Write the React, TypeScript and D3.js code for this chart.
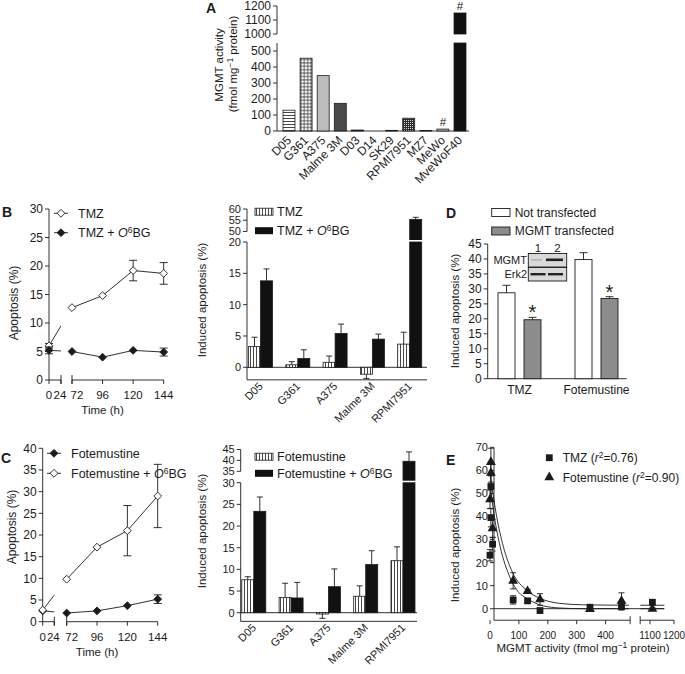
import React from "react";
import * as d3 from "d3";

const FONT = "'Liberation Sans', Arial, Helvetica, sans-serif";
const INK = "#1b1b1b";

// ---------------- Panel A : MGMT activity ----------------
const cellLinesA = ["D05", "G361", "A375", "Malme 3M", "D03", "D14", "SK29", "RPMI7951", "MZ7", "MeWo", "MveWoF40"];
const mgmtActivityA = [130, 455, 346, 173, 6, 0, 4, 80, 3, 12, 1150];
const lowerTicksA = [0, 100, 200, 300, 400, 500];
const upperTicksA = [1000, 1100, 1200];
const flaggedA = ["MeWo", "MveWoF40"];
const fillA: Record<string, string> = {
  D05: "url(#hHatch)", G361: "url(#grid)", A375: "#bcbcbc", "Malme 3M": "#4a4a4a",
  D03: "#333", D14: "#333", SK29: "#333", RPMI7951: "url(#dots)", MZ7: "#333",
  MeWo: "url(#lightV)", MveWoF40: "#111",
};

// ---------------- Panel B : TMZ time course ----------------
const timeTicks = [0, 24, 72, 96, 120, 144];
const timePoints = [0, 72, 96, 120, 144];
const tmzApoptosis = [6.0, 12.7, 14.8, 19.2, 18.7];
const tmzApoptosisErr = [0.4, 0.3, 0.3, 1.8, 1.9];
const tmzO6Apoptosis = [5.2, 5.0, 4.0, 5.2, 4.9];
const tmzO6ApoptosisErr = [0.6, 0.3, 0.3, 0.3, 0.7];
const bLeftTicks = [0, 5, 10, 15, 20, 25, 30];

// ---------------- Panel B : TMZ induced apoptosis ----------------
const cellLinesBC = ["D05", "G361", "A375", "Malme 3M", "RPMI7951"];
const tmzInduced = [3.3, 0.4, 0.8, -1.1, 3.7];
const tmzInducedErr = [1.5, 0.5, 1.0, 0.7, 1.9];
const tmzO6Induced = [13.8, 1.4, 5.4, 4.5, 55.4];
const tmzO6InducedErr = [1.9, 1.4, 1.5, 0.8, 0.9];
const bRightLowerTicks = [0, 5, 10, 15, 20];
const bRightUpperTicks = [50, 55, 60];

// ---------------- Panel C : Fotemustine time course ----------------
const foteApoptosis = [2.5, 2.0, 2.5, 3.7, 5.2];
const foteApoptosisErr = [0.3, 0.2, 0.3, 0.3, 1.0];
const foteO6Apoptosis = [2.7, 9.8, 17.2, 21.0, 29.0];
const foteO6ApoptosisErr = [0.3, 0.3, 0.3, 5.8, 7.3];
const cLeftTicks = [0, 5, 10, 15, 20, 25, 30, 35, 40];

// ---------------- Panel C : Fotemustine induced apoptosis ----------------
const foteInduced = [7.6, 3.5, -0.3, 3.8, 12.0];
const foteInducedErr = [0.7, 3.3, 1.0, 2.4, 3.2];
const foteO6Induced = [23.4, 3.4, 6.0, 11.1, 39.6];
const foteO6InducedErr = [3.3, 3.6, 4.1, 3.2, 4.3];
const cRightLowerTicks = [0, 5, 10, 15, 20, 25, 30];
const cRightUpperTicks = [35, 40, 45];

// ---------------- Panel D ----------------
const drugsD = ["TMZ", "Fotemustine"];
const notTransfected = [28.7, 39.8];
const notTransfectedErr = [2.5, 2.3];
const mgmtTransfected = [19.7, 26.8];
const mgmtTransfectedErr = [0.8, 0.6];
const dTicks = [0, 5, 10, 15, 20, 25, 30, 35, 40, 45];
const blotLanes = ["1", "2"];
const blotRows = ["MGMT", "Erk2"];

// ---------------- Panel E ----------------
const eTmzMgmt = [0, 3, 3, 9, 80, 130, 173, 346, 455, 1110];
const eTmzInduced = [23.2, 39.5, 53, 28, 3.8, 3.4, -0.8, 0.4, 0.9, 2.8];
const eTmzErr = [2.5, 4, 5, 3, 1.8, 1, 1, 1.5, 1.5, 1];
const eFoteMgmt = [3, 3, 0, 9, 80, 130, 173, 346, 455, 1110];
const eFoteInduced = [63.6, 58.9, 47.4, 34.8, 12.1, 7.6, 4.0, -0.2, 3.4, -0.1];
const eFoteErr = [6, 4, 4, 4, 3.5, 0.8, 2.5, 0.5, 3.5, 0.5];
const eTmzFitX = [0, 15, 35, 69, 100, 127, 184, 242, 320, 480];
const eTmzFitY = [54, 40, 27, 13.6, 7, 4.5, 1.2, 0.3, 0, 0];
const eFoteFitX = [0, 23, 46, 77, 127, 173, 242, 320, 480];
const eFoteFitY = [58.5, 40, 27, 16, 8, 4.5, 2.3, 1.7, 1.5];
const eFitRightX = [1060, 1160];
const eTmzFitRightY = [0, 0];
const eFoteFitRightY = [1.5, 1.5];
const eXTicksLeft = [0, 100, 200, 300, 400];
const eXTicksRight = [1100, 1200];
const eYTicks = [0, 10, 20, 30, 40, 50, 60, 70];

const diamond = "M0,-3.9L3.9,0L0,3.9L-3.9,0Z";

type Scale = (v: number) => number;

function LeftAxis({ x, scale, ticks, top, bottom, fs = 12 }: { x: number; scale: Scale; ticks: number[]; top: number; bottom: number; fs?: number }) {
  return (
    <g>
      <line x1={x} x2={x} y1={top} y2={bottom} stroke={INK} strokeWidth={0.9} />
      {ticks.map((t) => (
        <g key={t}>
          <line x1={x - 4} x2={x} y1={scale(t)} y2={scale(t)} stroke={INK} strokeWidth={0.9} />
          <text x={x - 6} y={scale(t)} dy="0.36em" textAnchor="end" fontSize={fs}>{t}</text>
        </g>
      ))}
    </g>
  );
}

function ErrorBar({ x, from, to, half = 3 }: { x: number; from: number; to: number; half?: number }) {
  return (
    <g stroke={INK} strokeWidth={0.9}>
      <line x1={x} x2={x} y1={from} y2={to} />
      <line x1={x - half} x2={x + half} y1={to} y2={to} />
    </g>
  );
}

function O6({ prefix }: { prefix: string }) {
  return (
    <>
      {prefix + " + "}
      <tspan fontStyle="italic">O</tspan>
      <tspan dy={-4} fontSize={8.5}>6</tspan>
      <tspan dy={4}>BG</tspan>
    </>
  );
}

type TS = { values: number[]; errors: number[]; filled: boolean; label: string; o6: boolean };

function TimeCourse({ id, axisX, xLeft, xRight, y, yTicks, series, legendX, legendY, legendStep }: {
  id: string; axisX: number; xLeft: d3.ScaleLinear<number, number>; xRight: d3.ScaleLinear<number, number>;
  y: d3.ScaleLinear<number, number>; yTicks: number[]; series: TS[]; legendX: number; legendY: number; legendStep: number;
}) {
  const xOf = (t: number) => (t <= 24 ? xLeft(t) : xRight(t));
  const labelShift = (t: number) => (t === 72 ? 5 : t === 24 ? -1 : 0);
  const y0 = y(0);
  const seg = d3.line<number>().x((_, i) => xOf(timePoints[i + 1])).y((d) => y(d));
  return (
    <g>
      <defs>
        <clipPath id={id}>
          <rect x={0} y={0} width={xLeft(24)} height={700} />
        </clipPath>
      </defs>
      <LeftAxis x={axisX} scale={y} ticks={yTicks} top={y(yTicks[yTicks.length - 1])} bottom={y0} />
      <g stroke={INK} strokeWidth={0.9}>
        <line x1={xLeft(0)} x2={xLeft(24)} y1={y0} y2={y0} />
        <line x1={xRight(72)} x2={xRight(144)} y1={y0} y2={y0} />
        <line x1={xLeft(24)} x2={xLeft(24)} y1={y0 - 5} y2={y0 + 4} />
        <line x1={xRight(72)} x2={xRight(72)} y1={y0 - 5} y2={y0 + 4} />
        {timeTicks.map((t) => (
          <line key={t} x1={xOf(t)} x2={xOf(t)} y1={y0} y2={y0 + 4} />
        ))}
      </g>
      {timeTicks.map((t) => (
        <text key={t} x={xOf(t) + labelShift(t)} y={y0 + 19} textAnchor="middle" fontSize={11.5}>{t}</text>
      ))}
      <text x={xRight(96)} y={y0 + 34} textAnchor="middle" fontSize={11.5}>Time (h)</text>
      {series.map((s, k) => (
        <g key={k}>
          <path d={seg(s.values.slice(1)) || ""} fill="none" stroke={INK} strokeWidth={0.9} />
          <line x1={xOf(0)} y1={y(s.values[0])} x2={xOf(72)} y2={y(s.values[1])} stroke={INK} strokeWidth={0.9} clipPath={`url(#${id})`} />
          {s.values.map((v, i) => (
            s.errors[i] > 0.35 ? (
              <g key={i}>
                <ErrorBar x={xOf(timePoints[i])} from={y(v)} to={y(v + s.errors[i])} half={4} />
                <ErrorBar x={xOf(timePoints[i])} from={y(v)} to={y(v - s.errors[i])} half={4} />
              </g>
            ) : null
          ))}
          {s.values.map((v, i) => (
            <path key={i} d={diamond} transform={`translate(${xOf(timePoints[i])},${y(v)})`} fill={s.filled ? INK : "#fff"} stroke={INK} strokeWidth={0.9} />
          ))}
        </g>
      ))}
      {series.map((s, k) => (
        <g key={k} transform={`translate(${legendX},${legendY + k * legendStep})`}>
          <line x1={0} x2={14} stroke={INK} strokeWidth={0.9} />
          <path d={diamond} transform="translate(7,0)" fill={s.filled ? INK : "#fff"} stroke={INK} strokeWidth={0.9} />
          <text x={24} y={0} dy="0.36em" fontSize={12.5}>
            {s.o6 ? <O6 prefix={s.label} /> : s.label}
          </text>
        </g>
      ))}
    </g>
  );
}

function InducedBars({ axisX, axisEnd, centers, yL, yU, lowTicks, upTicks, lowMin, lowMax, a, aErr, b, bErr, legend }: {
  axisX: number; axisEnd: number; centers: d3.ScalePoint<string>; yL: d3.ScaleLinear<number, number>; yU: d3.ScaleLinear<number, number>;
  lowTicks: number[]; upTicks: number[]; lowMin: number; lowMax: number;
  a: number[]; aErr: number[]; b: number[]; bErr: number[]; legend: { x: number; y: number; step: number; drug: string };
}) {
  const bw = 12;
  const bar = (v: number, x: number, fill: string, key: string) => {
    if (v <= lowMax) {
      const top = yL(Math.max(v, 0));
      const bot = yL(Math.min(v, 0));
      return <rect key={key} x={x} y={top} width={bw} height={Math.max(bot - top, 0.5)} fill={fill} stroke={INK} strokeWidth={0.8} />;
    }
    return (
      <g key={key}>
        <rect x={x} y={yU(v)} width={bw} height={yL(0) - yU(v)} fill={fill} stroke={INK} strokeWidth={0.8} />
        <rect x={x - 1} y={yL(lowMax) - 2} width={bw + 2} height={1.6} fill="#fff" />
      </g>
    );
  };
  const err = (v: number, e: number, x: number, key: string) => {
    const sc = v > lowMax ? yU : yL;
    const to = v >= 0 ? sc(v + e) : sc(v - e);
    return <ErrorBar key={key} x={x} from={sc(v)} to={to} half={3} />;
  };
  return (
    <g>
      <LeftAxis x={axisX} scale={yL} ticks={lowTicks} top={yL(lowMax)} bottom={yL(lowMin)} fs={11} />
      <LeftAxis x={axisX} scale={yU} ticks={upTicks} top={yU(upTicks[upTicks.length - 1])} bottom={yU(upTicks[0])} fs={11} />
      <line x1={axisX} x2={axisEnd} y1={yL(0)} y2={yL(0)} stroke={INK} strokeWidth={0.9} />
      <line x1={axisX} x2={axisEnd} y1={yL(lowMin)} y2={yL(lowMin)} stroke={INK} strokeWidth={0.9} />
      {cellLinesBC.map((c, i) => {
        const cx = centers(c)!;
        return (
          <g key={c}>
            {err(a[i], aErr[i], cx - bw / 2, "ea")}
            {err(b[i], bErr[i], cx + bw / 2, "eb")}
            {bar(a[i], cx - bw, "url(#vHatch)", "a")}
            {bar(b[i], cx, "#111", "b")}
            <text transform={`translate(${cx + 3},${yL(lowMin) + 7}) rotate(-45)`} textAnchor="end" fontSize={11}>{c}</text>
          </g>
        );
      })}
      <g transform={`translate(${legend.x},${legend.y})`}>
        <rect x={0} y={-3.5} width={18} height={7} fill="url(#vHatch)" stroke={INK} strokeWidth={0.8} />
        <text x={22} dy="0.36em" fontSize={12.5}>{legend.drug}</text>
        <rect x={0} y={legend.step - 3.5} width={18} height={7} fill="#111" />
        <text x={22} y={legend.step} dy="0.36em" fontSize={12.5}><O6 prefix={legend.drug} /></text>
      </g>
    </g>
  );
}

export default function App() {
  // ---------- A ----------
  const xA = d3.scaleBand<string>().domain(cellLinesA).range([281.3, 467.7]).paddingInner(0.3).paddingOuter(0.1);
  const yAL = d3.scaleLinear().domain([0, 500]).range([131, 51]);
  const yAU = d3.scaleLinear().domain([1000, 1200]).range([34, 6]);
  const aAxisX = 277;
  const aLowMax = 550;

  // ---------- B ----------
  const bxL = d3.scaleLinear().domain([0, 24]).range([49, 61]);
  const bxR = d3.scaleLinear().domain([72, 144]).range([72, 163.7]);
  const byL = d3.scaleLinear().domain([0, 30]).range([380, 209]);
  const bCenters = d3.scalePoint<string>().domain(cellLinesBC).range([260.5, 409.7]);
  const byRL = d3.scaleLinear().domain([0, 20]).range([367.3, 242]);
  const byRU = d3.scaleLinear().domain([50, 60]).range([231.5, 209]);

  // ---------- C ----------
  const cxL = d3.scaleLinear().domain([0, 24]).range([42.7, 54.3]);
  const cxR = d3.scaleLinear().domain([72, 144]).range([66.7, 157.7]);
  const cyL = d3.scaleLinear().domain([0, 40]).range([621.7, 448.3]);
  const cCenters = d3.scalePoint<string>().domain(cellLinesBC).range([253.8, 403]);
  const cyRL = d3.scaleLinear().domain([0, 30]).range([612.7, 482.7]);
  const cyRU = d3.scaleLinear().domain([35, 45]).range([471.3, 449.5]);

  // ---------- D ----------
  const xD = d3.scaleBand<string>().domain(drugsD).range([481, 635]);
  const yD = d3.scaleLinear().domain([0, 45]).range([378.7, 244]);
  const dAxisX = 487.7;

  // ---------- E ----------
  const xEL = d3.scaleLinear().domain([0, 400]).range([490, 605.6]);
  const xER = d3.scaleLinear().domain([1100, 1200]).range([650, 674]);
  const xE = (v: number) => (v >= 1000 ? xER(v) : xEL(v));
  const yE = d3.scaleLinear().domain([0, 70]).range([608.7, 447.3]);
  const eAxisX = 494;
  const eAxisY = yE(-5);
  const eBreakL = xEL(485);
  const eBreakR = eBreakL + 10;
  const fitPath = (xs: number[], ys: number[]) =>
    d3.line<number>().curve(d3.curveMonotoneX).x((v) => (v >= 1000 ? Math.max(xER(v), eBreakR) : xEL(v))).y((_, i) => yE(ys[i]))(xs) || "";
  const sq = d3.symbol().type(d3.symbolSquare).size(46)() || "";
  const tri = d3.symbol().type(d3.symbolTriangle).size(42)() || "";

  return (
    <svg width={685} height={674} style={{ position: "absolute", left: 0, top: 0, background: "#fff" }}
      fontFamily={FONT} fill={INK}>
      <defs>
        <pattern id="vHatch" width="3" height="4" patternUnits="userSpaceOnUse">
          <rect width="3" height="4" fill="#fff" />
          <line x1="1.5" x2="1.5" y1="0" y2="4" stroke="#333" strokeWidth="0.9" />
        </pattern>
        <pattern id="hHatch" width="4" height="3" patternUnits="userSpaceOnUse">
          <rect width="4" height="3" fill="#fff" />
          <line x1="0" x2="4" y1="1.5" y2="1.5" stroke="#333" strokeWidth="0.9" />
        </pattern>
        <pattern id="grid" width="3.4" height="3.4" patternUnits="userSpaceOnUse">
          <rect width="3.4" height="3.4" fill="#fff" />
          <line x1="0" x2="3.4" y1="1.7" y2="1.7" stroke="#333" strokeWidth="0.8" />
          <line x1="1.7" x2="1.7" y1="0" y2="3.4" stroke="#333" strokeWidth="0.8" />
        </pattern>
        <pattern id="dots" width="2" height="2" patternUnits="userSpaceOnUse">
          <rect width="2" height="2" fill="#2a2a2a" />
          <rect width="1" height="1" fill="#ddd" />
        </pattern>
        <pattern id="lightV" width="2" height="3" patternUnits="userSpaceOnUse">
          <rect width="2" height="3" fill="#ddd" />
          <line x1="1" x2="1" y1="0" y2="3" stroke="#777" strokeWidth="0.8" />
        </pattern>
      </defs>

      {/* ================= Panel A ================= */}
      <text x={206} y={13} fontSize={14} fontWeight="bold">A</text>
      <text transform={`translate(223,65) rotate(-90)`} textAnchor="middle" fontSize={11.5}>MGMT activity</text>
      <text transform={`translate(237,64) rotate(-90)`} textAnchor="middle" fontSize={11.5}>
        (fmol mg<tspan dy={-4} fontSize={8.5}>−1</tspan><tspan dy={4}> protein)</tspan>
      </text>
      <LeftAxis x={aAxisX} scale={yAL} ticks={lowerTicksA} top={yAL(aLowMax)} bottom={yAL(0)} />
      <LeftAxis x={aAxisX} scale={yAU} ticks={upperTicksA} top={yAU(1200)} bottom={yAU(1000)} />
      <line x1={aAxisX} x2={469} y1={yAL(0)} y2={yAL(0)} stroke={INK} strokeWidth={0.9} />
      {cellLinesA.map((c, i) => {
        const v = mgmtActivityA[i];
        const x = xA(c)!;
        const w = xA.bandwidth();
        const top = v > aLowMax ? yAU(v) : yAL(v);
        return (
          <g key={c}>
            {v > aLowMax ? (
              <>
                <rect x={x} y={yAL(aLowMax)} width={w} height={yAL(0) - yAL(aLowMax)} fill={fillA[c]} stroke={INK} strokeWidth={0.8} />
                <rect x={x} y={yAU(v)} width={w} height={yAU(1000) - yAU(v)} fill={fillA[c]} stroke={INK} strokeWidth={0.8} />
              </>
            ) : v > 0 ? (
              <rect x={x} y={yAL(v)} width={w} height={yAL(0) - yAL(v)} fill={fillA[c]} stroke={INK} strokeWidth={0.8} />
            ) : null}
            {flaggedA.includes(c) && (
              <text x={x + w / 2} y={top - 3} textAnchor="middle" fontSize={11.5}>#</text>
            )}
            <text transform={`translate(${x + w / 2 + 3},141) rotate(-45)`} textAnchor="end" fontSize={12}>{c}</text>
          </g>
        );
      })}

      {/* ================= Panel B ================= */}
      <text x={2} y={217} fontSize={14} fontWeight="bold">B</text>
      <text transform={`translate(18,303) rotate(-90)`} textAnchor="middle" fontSize={12}>Apoptosis (%)</text>
      <TimeCourse id="clipB" axisX={49} xLeft={bxL} xRight={bxR} y={byL} yTicks={bLeftTicks}
        legendX={54} legendY={213.3} legendStep={19.4}
        series={[
          { values: tmzApoptosis, errors: tmzApoptosisErr, filled: false, label: "TMZ", o6: false },
          { values: tmzO6Apoptosis, errors: tmzO6ApoptosisErr, filled: true, label: "TMZ", o6: true },
        ]} />
      <text transform={`translate(206,300) rotate(-90)`} textAnchor="middle" fontSize={11.5}>Induced apoptosis (%)</text>
      <InducedBars axisX={247} axisEnd={427} centers={bCenters} yL={byRL} yU={byRU}
        lowTicks={bRightLowerTicks} upTicks={bRightUpperTicks} lowMin={-2} lowMax={20}
        a={tmzInduced} aErr={tmzInducedErr} b={tmzO6Induced} bErr={tmzO6InducedErr}
        legend={{ x: 255, y: 211.7, step: 19, drug: "TMZ" }} />

      {/* ================= Panel C ================= */}
      <text x={1} y={463} fontSize={14} fontWeight="bold">C</text>
      <text transform={`translate(16,527) rotate(-90)`} textAnchor="middle" fontSize={12}>Apoptosis (%)</text>
      <TimeCourse id="clipC" axisX={42.7} xLeft={cxL} xRight={cxR} y={cyL} yTicks={cLeftTicks}
        legendX={47} legendY={453.3} legendStep={20}
        series={[
          { values: foteApoptosis, errors: foteApoptosisErr, filled: true, label: "Fotemustine", o6: false },
          { values: foteO6Apoptosis, errors: foteO6ApoptosisErr, filled: false, label: "Fotemustine", o6: true },
        ]} />
      <text transform={`translate(206,531) rotate(-90)`} textAnchor="middle" fontSize={11.5}>Induced apoptosis (%)</text>
      <InducedBars axisX={240.7} axisEnd={417} centers={cCenters} yL={cyRL} yU={cyRU}
        lowTicks={cRightLowerTicks} upTicks={cRightUpperTicks} lowMin={-2} lowMax={30}
        a={foteInduced} aErr={foteInducedErr} b={foteO6Induced} bErr={foteO6InducedErr}
        legend={{ x: 255, y: 456.7, step: 16.6, drug: "Fotemustine" }} />

      {/* ================= Panel D ================= */}
      <text x={446} y={218} fontSize={14} fontWeight="bold">D</text>
      <text transform={`translate(459,311) rotate(-90)`} textAnchor="middle" fontSize={11.5}>Induced apoptosis (%)</text>
      <LeftAxis x={dAxisX} scale={yD} ticks={dTicks} top={yD(45)} bottom={yD(0)} />
      <line x1={dAxisX} x2={626.7} y1={yD(0)} y2={yD(0)} stroke={INK} strokeWidth={0.9} />
      {drugsD.map((g, i) => {
        const c = xD(g)! + xD.bandwidth() / 2;
        const w = 17;
        const x1 = c - 13 - w / 2;
        const x2 = c + 13 - w / 2;
        return (
          <g key={g}>
            <ErrorBar x={x1 + w / 2} from={yD(notTransfected[i])} to={yD(notTransfected[i] + notTransfectedErr[i])} half={4} />
            <ErrorBar x={x2 + w / 2} from={yD(mgmtTransfected[i])} to={yD(mgmtTransfected[i] + mgmtTransfectedErr[i])} half={4} />
            <rect x={x1} y={yD(notTransfected[i])} width={w} height={yD(0) - yD(notTransfected[i])} fill="#fff" stroke={INK} strokeWidth={0.9} />
            <rect x={x2} y={yD(mgmtTransfected[i])} width={w} height={yD(0) - yD(mgmtTransfected[i])} fill="#8c8c8c" stroke={INK} strokeWidth={0.9} />
            <text x={x2 + w / 2} y={yD(mgmtTransfected[i] + mgmtTransfectedErr[i]) + 2} textAnchor="middle" fontSize={20}>*</text>
            <text x={c} y={394} textAnchor="middle" fontSize={12}>{g}</text>
          </g>
        );
      })}
      <g transform="translate(491.7,212.5)">
        <rect x={0} y={-4} width={18.3} height={8} fill="#fff" stroke={INK} strokeWidth={0.9} />
        <text x={23} dy="0.36em" fontSize={12}>Not transfected</text>
        <rect x={0} y={14.5} width={18.3} height={8} fill="#8c8c8c" stroke={INK} strokeWidth={0.9} />
        <text x={23} y={18.5} dy="0.36em" fontSize={12}>MGMT transfected</text>
      </g>
      {/* western blot inset */}
      <g>
        {blotLanes.map((l, j) => (
          <text key={l} x={538 + j * 19.5} y={252} textAnchor="middle" fontSize={11.5}>{l}</text>
        ))}
        {blotRows.map((r, k) => (
          <g key={r}>
            <rect x={528.3} y={253.5 + k * 14} width={38.4} height={13.5} fill="#d9d9d9" stroke={INK} strokeWidth={0.9} />
            <text x={527} y={260.2 + k * 14} dy="0.36em" textAnchor="end" fontSize={11}>{r}</text>
          </g>
        ))}
        <rect x={531} y={259} width={11} height={1.6} fill="#b5b5b5" />
        <rect x={546} y={258.5} width={17} height={2.6} fill="#222" />
        <rect x={530.5} y={273} width={15} height={2.4} fill="#222" />
        <rect x={548} y={273} width={15} height={2.4} fill="#222" />
      </g>

      {/* ================= Panel E ================= */}
      <text x={446} y={465} fontSize={14} fontWeight="bold">E</text>
      <text transform={`translate(459,545) rotate(-90)`} textAnchor="middle" fontSize={11.5}>Induced apoptosis (%)</text>
      <LeftAxis x={eAxisX} scale={yE} ticks={eYTicks} top={yE(70)} bottom={eAxisY} fs={11} />
      <line x1={eAxisX} x2={664} y1={yE(0)} y2={yE(0)} stroke={INK} strokeWidth={0.9} />
      <g stroke={INK} strokeWidth={0.9}>
        <line x1={eAxisX} x2={eBreakL} y1={eAxisY} y2={eAxisY} />
        <line x1={eBreakR} x2={xER(1200)} y1={eAxisY} y2={eAxisY} />
        <line x1={eBreakL} x2={eBreakL} y1={eAxisY - 4} y2={eAxisY + 4} />
        <line x1={eBreakR} x2={eBreakR} y1={eAxisY - 4} y2={eAxisY + 4} />
        {[...eXTicksLeft, ...eXTicksRight].map((t) => (
          <line key={t} x1={xE(t)} x2={xE(t)} y1={eAxisY} y2={eAxisY + 4} />
        ))}
      </g>
      {[...eXTicksLeft, ...eXTicksRight].map((t) => (
        <text key={t} x={xE(t)} y={eAxisY + 19} textAnchor="middle" fontSize={10}>{t}</text>
      ))}
      <text x={583} y={652} textAnchor="middle" fontSize={11.5}>
        MGMT activity (fmol mg<tspan dy={-4} fontSize={8.5}>−1</tspan><tspan dy={4}> protein)</tspan>
      </text>
      <path d={fitPath(eTmzFitX, eTmzFitY)} fill="none" stroke={INK} strokeWidth={0.9} />
      <path d={fitPath(eFoteFitX, eFoteFitY)} fill="none" stroke={INK} strokeWidth={0.9} />
      <path d={fitPath(eFitRightX, eTmzFitRightY)} fill="none" stroke={INK} strokeWidth={0.9} />
      <path d={fitPath(eFitRightX, eFoteFitRightY)} fill="none" stroke={INK} strokeWidth={0.9} />
      {eTmzMgmt.map((m, i) => (
        <g key={"t" + i}>
          <ErrorBar x={xE(m)} from={yE(eTmzInduced[i])} to={yE(eTmzInduced[i] + eTmzErr[i])} half={3} />
          <ErrorBar x={xE(m)} from={yE(eTmzInduced[i])} to={yE(eTmzInduced[i] - eTmzErr[i])} half={3} />
        </g>
      ))}
      {eFoteMgmt.map((m, i) => (
        <g key={"f" + i}>
          <ErrorBar x={xE(m)} from={yE(eFoteInduced[i])} to={yE(eFoteInduced[i] + eFoteErr[i])} half={3} />
          <ErrorBar x={xE(m)} from={yE(eFoteInduced[i])} to={yE(eFoteInduced[i] - eFoteErr[i])} half={3} />
        </g>
      ))}
      {eTmzMgmt.map((m, i) => (
        <path key={"ts" + i} d={sq} transform={`translate(${xE(m)},${yE(eTmzInduced[i])})`} fill={INK} />
      ))}
      {eFoteMgmt.map((m, i) => (
        <path key={"fs" + i} d={tri} transform={`translate(${xE(m)},${yE(eFoteInduced[i])})`} fill={INK} />
      ))}
      <g>
        <path d={sq} transform="translate(549.3,457.7)" fill={INK} />
        <text x={562.7} y={457.7} dy="0.36em" fontSize={12}>
          TMZ (<tspan fontStyle="italic">r</tspan><tspan dy={-4} fontSize={8.5}>2</tspan><tspan dy={4}>=0.76)</tspan>
        </text>
        <path d={tri} transform="translate(549.3,477.3)" fill={INK} />
        <text x={562.7} y={477.3} dy="0.36em" fontSize={12}>
          Fotemustine (<tspan fontStyle="italic">r</tspan><tspan dy={-4} fontSize={8.5}>2</tspan><tspan dy={4}>=0.90)</tspan>
        </text>
      </g>
    </svg>
  );
}
